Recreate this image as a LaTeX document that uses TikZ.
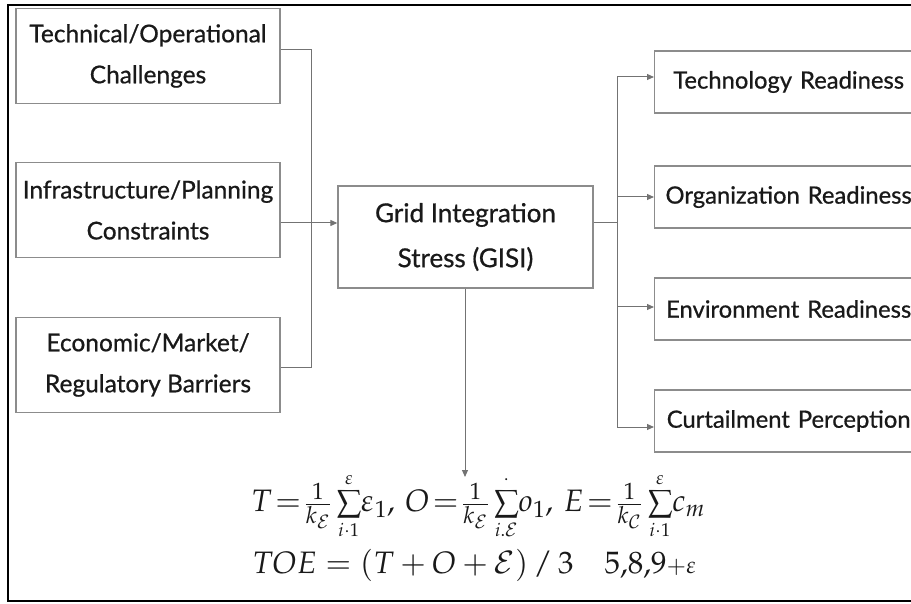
\documentclass[tikz,border=0pt]{standalone}
\usepackage{mathpazo}
\usepackage[no-math]{fontspec}
\setmainfont{Lato}[BoldFont=Lato, BoldFeatures={FakeBold=0.7}]
\usetikzlibrary{arrows.meta,calc}

\definecolor{boxgray}{gray}{0.55}
\definecolor{linkgray}{gray}{0.45}
\definecolor{inkgray}{gray}{0.1}

\newcommand{\boxfont}{\fontsize{24.5}{41}\selectfont\bfseries}
\newcommand{\outfont}{\fontsize{23.8}{30}\selectfont\bfseries}
\newcommand{\gisifont}{\fontsize{26}{45}\selectfont\bfseries}
\newcommand{\eqfont}{\fontsize{31}{36}\selectfont}
\newcommand{\sumlim}[1]{{\scriptscriptstyle #1}}

\tikzset{
  box/.style={draw=boxgray, line width=1.3pt, fill=white, align=center,
    inner sep=0pt, text=inkgray, font=\boxfont},
  inbox/.style={box, minimum width=264, minimum height=95},
  outbox/.style={box, anchor=west, minimum height=62, text width=268,
    font=\outfont},
  link/.style={draw=linkgray, line width=1pt},
  arr/.style={link, -{Triangle[length=7pt,width=6pt]}},
  eq/.style={text=inkgray, font=\eqfont, inner sep=0pt},
}

\begin{document}
\begin{tikzpicture}[x=1pt,y=-1pt]
\useasboundingbox (0,0) rectangle (911,604);
\clip (0,0) rectangle (911,604);

% outer frame (open on the right)
\draw[line width=2pt] (911,5) -- (8,5) -- (8,601) -- (911,601);

% input factors
\node[inbox] (b1) at (148,56)  {Technical/Operational\\Challenges};
\node[inbox] (b2) at (148,210) {Infrastructure/Planning\\Constraints};
\node[inbox] (b3) at (148,365) {Economic/Market/\\Regulatory Barriers};

% central stress index
\node[box, minimum width=255, minimum height=102, font=\gisifont] (g) at (465.5,237)
  {Grid Integration\\Stress (GISI)};

% readiness outcomes (boxes run on past the right edge)
\node[outbox] (r1) at (654,82)  {Technology Readiness};
\node[outbox] (r2) at (654,197) {Organization Readiness};
\node[outbox] (r3) at (654,309) {Environment Readiness};
\node[outbox] (r4) at (654,421) {Curtailment Perception};

% collecting bus on the left
\coordinate (lb1) at (311,50);
\coordinate (lb3) at (311,367);
\draw[link] (b1.east |- lb1) -- (lb1) -- (lb3) -- (b3.east |- lb3);
\draw[arr] (b2.east |- 0,223) -- (g.west |- 0,223);

% distributing bus on the right
\coordinate (rb0) at (617,223);
\coordinate (rb1) at (617,77);
\coordinate (rb2) at (617,197);
\coordinate (rb3) at (617,307);
\coordinate (rb4) at (617,427);
\draw[link] (g.east |- rb0) -- (rb0);
\draw[link] (rb1) -- (rb4);
\draw[arr] (rb1) -- (r1.west |- rb1);
\draw[arr] (rb2) -- (r2.west |- rb2);
\draw[arr] (rb3) -- (r3.west |- rb3);
\draw[arr] (rb4) -- (r4.west |- rb4);

% formulas
\coordinate (ftip) at (465,477);
\draw[arr] (g.south -| ftip) -- (ftip);
\node[eq] (f1) at (478,506)
  {$T\!=\!\frac{1}{k_{\mathcal{E}}}\sum\limits_{\sumlim{i\cdot1}}^{\sumlim{\varepsilon}}\!\varepsilon_{1},\,
    O\!=\!\frac{1}{k_{\mathcal{E}}}\sum\limits_{\sumlim{i.\mathcal{E}}}^{\sumlim{\cdot}}\!o_{1},\,
    E\!=\!\frac{1}{k_{\mathcal{C}}}\sum\limits_{\sumlim{i\cdot1}}^{\sumlim{\varepsilon}}\!c_{m}$};
\node[eq] (f2) at (474,565)
  {$TOE=(T+O+\mathcal{E})\,/\,3\quad 5{,}8{,}9{\scriptstyle+\varepsilon}$};
\end{tikzpicture}
\end{document}
